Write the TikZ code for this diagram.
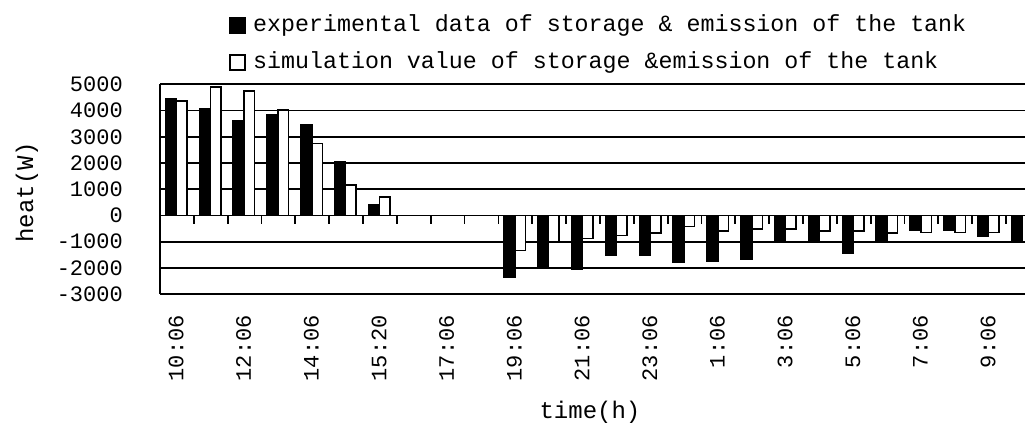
\documentclass[tikz,border=0pt]{standalone}
\usepackage{fontspec}
\newfontfamily\chartfont{Liberation Mono}
\begin{document}
\begin{tikzpicture}[x=1pt, y=-1pt,
    grid line/.style={line width=1.8pt, black},
    exp bar/.style={draw, line width=1.5pt, fill=black},
    sim bar/.style={draw, line width=1.5pt, fill=white},
    tick label/.style={font=\chartfont\fontsize{22}{24}\selectfont, anchor=east, inner sep=0pt},
    legend text/.style={font=\chartfont\fontsize{23.3}{26}\selectfont, anchor=west, inner sep=0pt},
    axis title/.style={font=\chartfont\fontsize{24}{26}\selectfont, inner sep=0pt}]
  \useasboundingbox[fill=white] (0,0) rectangle (1025,425);

  % grid lines and y ticks
  \foreach \v [count=\k] in {5000,4000,...,-3000}{
    \draw[grid line] (160,{215.5-\v*0.02625}) -- (1025,{215.5-\v*0.02625});
    \node[tick label] (ytick\k) at (123,{215.5-\v*0.02625}) {\v};
  }
  \draw[grid line] (160,84.25) -- (160,294.25);
  \foreach \k in {1,...,25}
    \draw[grid line] ({160+\k*33.84},215.5) -- ++(0,8);

  % bars
  \foreach \e/\s [count=\i from 0] in {4450/4360,4070/4890,3600/4740,3830/4020,3450/2750,2060/1160,400/700,
      0/0,0/0,0/0,-2350/-1340,-2020/-1000,-2030/-880,-1500/-760,-1500/-660,-1800/-420,-1730/-590,
      -1660/-520,-950/-520,-950/-590,-1420/-590,-1000/-660,-560/-640,-560/-640,-790/-640}{
    \ifnum\e=0 \else
      \draw[exp bar] ({165.5+\i*33.84},215.5) rectangle ++(11,{-\e*0.02625});
      \draw[sim bar] ({176.5+\i*33.84},215.5) rectangle ++(10.5,{-\s*0.02625});
    \fi
  }
  \draw[exp bar] ({165.5+25*33.84},215.5) rectangle ++(11,{1000*0.02625});

  % x ticks
  \foreach \t [count=\k from 0] in {10:06,12:06,14:06,15:20,17:06,19:06,21:06,23:06,1:06,3:06,5:06,7:06,9:06}
    \node[tick label, rotate=90] (xtick\k) at ({176+\k*67.68},315) {\t};

  % titles
  \node[axis title, rotate=90] (ylab) at (27,192) {heat(W)};
  \node[axis title] (xlab) at (590,412) {time(h)};

  % legend
  \draw[exp bar] (230,18) rectangle (245,33);
  \node[legend text] (legexp) at (253,25) {experimental data of storage \& emission of the tank};
  \draw[sim bar] (230,55) rectangle (245,70);
  \node[legend text] (legsim) at (253,62) {simulation value of storage \&emission of the tank};
\end{tikzpicture}
\end{document}
